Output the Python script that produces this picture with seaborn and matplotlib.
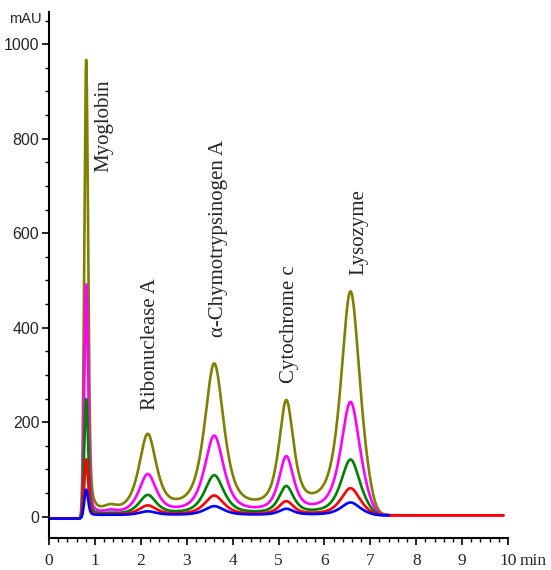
import numpy as np
import pandas as pd
import matplotlib
matplotlib.use('Agg')
import matplotlib.pyplot as plt
from matplotlib.ticker import MultipleLocator
import seaborn as sns

# peak table (min, mAU)
retention = [0.81, 1.33, 2.15, 3.60, 5.17, 6.57]
fwhm = [0.10, 0.30, 0.45, 0.50, 0.38, 0.50]
lorentz_frac = [0.35, 0.0, 0.7, 0.7, 0.7, 0.7]

olive_h = [962, 9, 164, 314, 228, 470]
magenta_h = [488, 5, 83, 165, 117, 238]
green_h = [246, 2, 41, 83, 58, 117]
red_h = [119, 1, 20, 41, 28, 57]
blue_h = [55, 0.5, 8, 19, 13, 27]

run_end = [9.9, 9.9, 7.45, 9.9, 7.4]
trace_names = ['olive', 'magenta', 'green', 'red', 'blue']
trace_colors = ['#808000', '#ff00ff', '#008000', '#ff0000', '#0000ff']

peak_names = ['Myoglobin', 'Ribonuclease A', 'α-Chymotrypsinogen A', 'Cytochrome c', 'Lysozyme']
label_x = [1.2, 2.22, 3.70, 5.23, 6.75]
label_y = [729, 226, 380, 283, 512]

x_ticks = list(range(0, 11))
y_ticks = [0, 200, 400, 600, 800, 1000]

SERIF = ['Liberation Serif', 'DejaVu Serif']


def trace(t, heights):
    y = np.zeros_like(t)
    for rt, w, eta, h in zip(retention, fwhm, lorentz_frac, heights):
        d = (t - rt) / (w / 2)
        y += h * ((1 - eta) * np.exp(-np.log(2) * d ** 2) + eta / (1 + d ** 2))
    # void front and end of elution
    y *= 1 / (1 + np.exp(-(t - 0.72) / 0.015))
    y *= 1 / (1 + np.exp((t - 7.08) / 0.08))
    base = -4 + 7 / (1 + np.exp(-(t - 0.75) / 0.03))
    return y + base


frames = []
for name, h, end in zip(trace_names, [olive_h, magenta_h, green_h, red_h, blue_h], run_end):
    t = np.linspace(0, end, 2500)
    frames.append(pd.DataFrame({'time': t, 'mAU': trace(t, h), 'trace': name}))
df = pd.concat(frames, ignore_index=True)

sns.set_style('ticks')
plt.rcParams['font.family'] = ['Liberation Sans', 'DejaVu Sans']

fig = plt.figure(figsize=(5.51, 5.70), dpi=100)
ax = fig.add_axes([49 / 551, 1 - 538 / 570, (508 - 49) / 551, (538 - 12) / 570])

sns.lineplot(data=df, x='time', y='mAU', hue='trace', palette=trace_colors,
             sort=False, estimator=None, linewidth=1.9, legend=False, ax=ax)

ax.set_xlim(0, 10)
ax.set_ylim(-45, 1068)
ax.set_xlabel('')
ax.set_ylabel('')
sns.despine(ax=ax)
for s in ['left', 'bottom']:
    ax.spines[s].set_linewidth(1.5)
    ax.spines[s].set_color('black')

ax.set_xticks(x_ticks, labels=[str(v) for v in x_ticks], fontfamily=SERIF, fontsize=12.5)
ax.xaxis.set_minor_locator(MultipleLocator(0.2))
ax.set_yticks(y_ticks, labels=[str(v) for v in y_ticks], fontsize=11.5)
ax.yaxis.set_minor_locator(MultipleLocator(50))
ax.tick_params(which='major', length=5, width=1.2, color='black')
ax.tick_params(which='minor', length=3, width=1.0, color='black')
ax.tick_params(axis='y', pad=2)
ax.tick_params(axis='x', pad=6)

for name, x, y in zip(peak_names, label_x, label_y):
    ax.text(x, y, name, rotation=90, ha='center', va='bottom', fontsize=15, family=SERIF)

fig.text(25 / 551, 1 - 19 / 570, 'mAU', ha='center', va='center', fontsize=10.5)
fig.text(520 / 551, 1 - 561 / 570, 'min', ha='left', va='center', fontsize=12.5, family=SERIF)

fig.savefig('out.png', dpi=100)
